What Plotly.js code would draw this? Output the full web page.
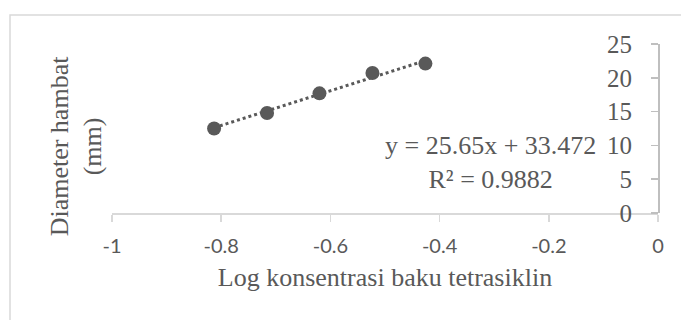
<!DOCTYPE html>
<html>
<head>
<meta charset="utf-8">
<script src="https://cdn.plot.ly/plotly-3.0.1.min.js"></script>
<style>html,body{margin:0;padding:0;background:#fff;}#chart{width:681px;height:320px;}</style>
</head>
<body>
<div id="chart"></div>
<script>
// Data
const logKonsentrasi = [-0.813, -0.716, -0.620, -0.523, -0.426];
const diameterHambat = [12.5, 14.8, 17.7, 20.7, 22.1];
const xTickVals = [-1, -0.8, -0.6, -0.4, -0.2, 0];
const xTickText = ['-1', '-0.8', '-0.6', '-0.4', '-0.2', '0'];
const yTickVals = [0, 5, 10, 15, 20, 25];
const yTickText = ['0', '5', '10', '15', '20', '25'];
const slope = 25.65;
const intercept = 33.472;
const equationText = 'y = 25.65x + 33.472<br>R² = 0.9882';
const xTitle = 'Log konsentrasi baku tetrasiklin';
const yTitle = 'Diameter hambat<br>(mm)';

const xMin = Math.min(...logKonsentrasi), xMax = Math.max(...logKonsentrasi);
const trendX = [xMin, xMax];
const trendY = trendX.map(v => slope * v + intercept);

const serif = 'Liberation Serif, Times New Roman, serif';
const sans = 'Lato, Open Sans, sans-serif';
const textCol = '#595959';

const traces = [
  {x: trendX, y: trendY, mode: 'lines', type: 'scatter',
   line: {color: textCol, width: 3, dash: 'dot'}, hoverinfo: 'skip', showlegend: false},
  {x: logKonsentrasi, y: diameterHambat, mode: 'markers', type: 'scatter',
   marker: {color: textCol, size: 14}, showlegend: false}
];

const layout = {
  width: 681, height: 320,
  margin: {l: 112, r: 23, t: 44, b: 107},
  paper_bgcolor: '#fff', plot_bgcolor: '#fff',
  showlegend: false,
  xaxis: {
    range: [-1, 0], tickvals: xTickVals, ticktext: xTickText,
    showgrid: false, zeroline: false, showline: true, linecolor: '#d9d9d9', linewidth: 1.5,
    ticks: 'outside', ticklen: 7, tickcolor: '#d9d9d9', tickwidth: 1.5,
    tickfont: {family: sans, size: 20, color: textCol},
    ticklabelstandoff: 7,
    title: {text: xTitle, font: {family: serif, size: 26, color: textCol}, standoff: 12},
    automargin: false
  },
  yaxis: {
    range: [0, 25], tickvals: yTickVals, ticktext: yTickText,
    anchor: 'free', position: 1, side: 'left',
    showgrid: false, zeroline: false, showline: true, linecolor: '#bfbfbf', linewidth: 1.5,
    ticks: 'outside', ticklen: 7, tickcolor: '#bfbfbf', tickwidth: 1.5,
    tickfont: {family: serif, size: 25, color: textCol},
    ticklabelstandoff: 14,
    automargin: false
  },
  annotations: [
    {xref: 'x', yref: 'y', x: -0.3077, y: 7.5, xanchor: 'center', yanchor: 'middle',
     text: equationText, showarrow: false,
     align: 'center', font: {family: serif, size: 26, color: textCol}},
    {xref: 'paper', yref: 'paper', x: -0.066, y: 0.40, xanchor: 'center', yanchor: 'middle',
     text: yTitle, showarrow: false,
     textangle: -90, align: 'center', font: {family: serif, size: 26, color: textCol}}
  ],
  shapes: [
    {type: 'rect', xref: 'paper', yref: 'paper', x0: -0.1868, y0: 1.172, x1: 1.2, y1: -1.2,
     line: {color: '#d9d9d9', width: 1.5}, fillcolor: 'rgba(0,0,0,0)', layer: 'below'}
  ]
};

Plotly.newPlot('chart', traces, layout, {staticPlot: true, displayModeBar: false});
</script>
</body>
</html>
